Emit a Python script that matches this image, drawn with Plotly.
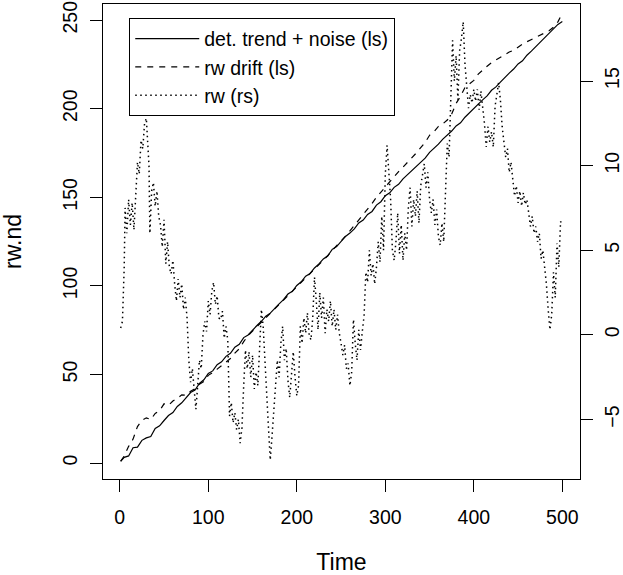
import plotly.graph_objects as go

# det. trend + noise (left scale)
trend_time = [1, 5, 10, 15, 20, 25, 30, 35, 40, 45, 50, 55, 60, 65, 70, 75, 80, 85, 90, 95,
              100, 105, 110, 115, 120, 125, 130, 135, 140, 145, 150, 155, 160, 165, 170, 175, 180, 185, 190, 195,
              200, 205, 210, 215, 220, 225, 230, 235, 240, 245, 250, 255, 260, 265, 270, 275, 280, 285, 290, 295,
              300, 305, 310, 315, 320, 325, 330, 335, 340, 345, 350, 355, 360, 365, 370, 375, 380, 385, 390, 395,
              400, 405, 410, 415, 420, 425, 430, 435, 440, 445, 450, 455, 460, 465, 470, 475, 480, 485, 490, 495, 500]
trend_value = [1.0, 3.2, 4.0, 8.6, 9.0, 12.8, 14.2, 15.0, 19.5, 21.0, 24.0, 26.8, 28.5, 31.9, 34.0, 36.6, 39.8, 41.2, 44.9, 47.0,
               50.6, 52.0, 55.5, 57.1, 60.2, 61.9, 65.4, 67.0, 70.8, 72.3, 75.1, 77.6, 80.0, 82.9, 84.6, 87.5, 89.8, 92.2, 95.4, 96.9,
               100.2, 102.3, 105.5, 107.0, 110.1, 112.4, 115.2, 117.0, 120.6, 122.2, 125.0, 127.9, 129.8, 132.2, 135.5, 137.1, 140.3, 142.0, 145.6, 147.5,
               150.9, 152.5, 155.6, 157.3, 160.4, 162.8, 165.0, 167.6, 170.2, 172.1, 175.4, 177.6, 180.0, 182.8, 185.1, 187.4, 190.3, 192.0, 195.2, 197.5,
               200.1, 202.6, 205.0, 207.2, 210.4, 212.3, 215.0, 217.7, 220.1, 222.4, 225.3, 227.0, 230.2, 232.5, 235.0, 237.3, 240.1, 242.8, 245.0, 247.6, 249.2]

# rw drift (left scale)
drift_time = trend_time
drift_value = [1.0, 4.0, 9.4, 13.5, 20.6, 24.0, 25.5, 24.5, 28.0, 29.5, 33.4, 32.5, 35.0, 36.5, 38.5, 38.2, 40.5, 42.0, 44.5, 46.0,
               49.5, 51.0, 53.0, 55.0, 57.5, 59.0, 62.0, 64.5, 68.5, 72.0, 74.5, 77.0, 79.5, 82.0, 84.0, 86.5, 89.0, 91.5, 94.5, 96.5,
               99.5, 101.5, 104.5, 106.5, 109.5, 111.5, 114.5, 117.0, 120.0, 122.5, 125.5, 128.0, 131.0, 134.0, 137.5, 140.0, 143.5, 146.5, 150.0, 153.0,
               156.0, 159.0, 162.0, 164.5, 167.0, 169.5, 172.0, 175.0, 178.0, 181.0, 185.0, 187.0, 190.0, 191.5, 193.6, 197.0, 203.0, 207.0, 212.0, 214.0,
               216.0, 219.5, 222.0, 224.0, 226.0, 227.5, 229.0, 230.5, 232.0, 233.0, 235.0, 236.5, 237.8, 239.0, 240.5, 241.5, 243.0, 244.0, 246.0, 249.0, 254.0]

# rw (right scale)
rw_time = [1, 3, 5, 6, 8, 10, 12, 14, 16, 18, 20, 22, 24, 26, 28, 30, 31, 33, 34, 36, 38, 40, 42, 44, 46, 48, 50,
           52, 54, 56, 58, 60, 62, 64, 66, 68, 70, 72, 74, 76, 78, 80, 82, 84, 86, 88, 90, 92, 94, 96, 98, 100,
           102, 104, 106, 108, 110, 112, 114, 116, 118, 120, 122, 124, 126, 128, 130, 132, 134, 136, 138, 140,
           142, 144, 146, 148, 150, 152, 154, 156, 158, 160, 162, 164, 166, 168, 170, 172, 174, 176, 178, 180,
           182, 184, 186, 188, 190, 192, 194, 196, 198, 200, 202, 204, 206, 208, 210, 212, 214, 216, 218, 220,
           222, 224, 226, 228, 230, 232, 234, 236, 238, 240, 242, 244, 246, 248, 250, 252, 254, 256, 258, 260,
           262, 264, 266, 268, 270, 272, 274, 276, 278, 280, 282, 284, 286, 288, 290, 292, 294, 296, 298, 300,
           302, 304, 306, 308, 310, 312, 314, 316, 318, 320, 322, 324, 326, 328, 330, 332, 334, 336, 338, 340,
           342, 344, 346, 348, 350, 352, 354, 356, 358, 360, 362, 364, 366, 368, 370, 372, 374, 376, 378, 380,
           382, 384, 386, 388, 390, 392, 394, 396, 398, 400, 402, 404, 406, 408, 410, 412, 414, 416, 418, 420,
           422, 424, 426, 428, 430, 432, 434, 436, 438, 440, 442, 444, 446, 448, 450, 452, 454, 456, 458, 460,
           462, 464, 466, 468, 470, 472, 474, 476, 478, 480, 482, 484, 486, 488, 490, 492, 494, 496, 498, 500]
rw_value = [0.4, 0.8, 4.0, 7.5, 6.0, 8.0, 6.5, 7.8, 6.2, 8.5, 10.2, 9.5, 11.5, 11.0, 12.5, 12.8, 11.8, 10.0, 6.0, 8.5, 9.0, 7.6, 8.5, 7.0, 6.5, 5.2, 6.8,
            4.2, 5.5, 4.0, 3.6, 4.4, 3.0, 2.0, 3.3, 2.2, 3.0, 1.5, 2.2, 1.0, -1.5, -2.8, -2.0, -3.5, -4.4, -3.0, -1.5, -2.0, 0.0, 0.8, 0.2, 2.0,
            1.2, 2.6, 3.1, 1.8, 2.3, 1.0, 0.9, 1.4, -0.2, 0.5, -0.3, -4.8, -4.0, -5.2, -4.6, -5.6, -5.0, -6.4, -5.5, -3.0,
            -0.9, -2.0, -1.0, -2.5, -1.2, -3.2, -2.2, -3.0, -1.0, 1.5, 0.5, -2.0, -3.5, -5.5, -7.4, -6.0, -4.5, -3.2, -1.5, -2.5,
            -0.5, 0.5, -1.5, -0.8, -2.7, -3.7, -2.0, -1.0, -2.5, -3.6, -3.0, 0.5, -0.5, 1.0, 0.1, 1.3, 0.0, -0.3, 1.0, 3.4,
            2.0, 0.3, 2.5, 1.0, 2.2, 0.1, 1.5, 0.8, 2.0, 0.5, 1.5, 0.3, 1.2, 0.1, -0.5, -1.2, -0.6, -2.0, -1.7, -3.0,
            -2.2, 0.9, -0.5, -1.5, 0.3, -0.9, 0.2, 1.1, 3.7, 3.1, 5.0, 3.5, 4.2, 3.0, 4.0, 5.5, 4.3, 7.0, 5.0, 9.5,
            11.2, 9.8, 8.0, 5.0, 4.4, 5.5, 7.2, 4.8, 6.5, 4.4, 6.0, 5.0, 7.5, 8.7, 6.4, 8.0, 7.0, 8.5, 6.6, 8.8,
            9.5, 10.1, 8.7, 9.6, 8.0, 7.2, 8.0, 6.5, 7.4, 5.8, 5.3, 6.6, 5.5, 8.0, 11.3, 10.5, 14.0, 17.4, 15.0, 16.5,
            13.9, 16.8, 17.5, 18.5, 16.0, 14.9, 13.4, 14.2, 13.7, 14.5, 13.8, 14.5, 13.3, 14.4, 13.6, 12.5, 11.1, 12.3, 11.4, 12.0,
            11.1, 13.5, 14.2, 14.9, 13.9, 12.3, 11.4, 10.5, 11.0, 9.6, 10.2, 9.1, 8.2, 8.8, 7.8, 8.5, 7.6, 8.4, 7.7, 8.0,
            7.2, 6.4, 7.0, 6.0, 6.4, 5.5, 6.0, 4.5, 5.0, 4.0, 3.0, 1.5, 0.3, 1.2, 3.7, 2.2, 5.4, 4.0, 6.7, 6.5]

x_ticks = [0, 100, 200, 300, 400, 500]
left_ticks = [0, 50, 100, 150, 200, 250]
right_ticks = [-5, 0, 5, 10, 15]

FONT = "Liberation Sans, Arial, Helvetica, sans-serif"

fig = go.Figure()
fig.add_trace(go.Scatter(x=trend_time, y=trend_value, mode="lines", name="det. trend + noise (ls)",
                         line=dict(color="black", width=1.2)))
fig.add_trace(go.Scatter(x=drift_time, y=drift_value, mode="lines", name="rw drift (ls)",
                         line=dict(color="black", width=1.2, dash="6px,6px")))
fig.add_trace(go.Scatter(x=rw_time, y=rw_value, mode="lines", name="rw (rs)", yaxis="y2",
                         line=dict(color="black", width=1.5, dash="1.5px,3.5px")))

axis_common = dict(showgrid=False, zeroline=False, showline=True, linecolor="black", linewidth=1.2,
                   ticks="outside", ticklen=12, tickwidth=1.2, tickcolor="black", automargin=False,
                   tickfont=dict(size=19.5, color="black", family=FONT))

fig.update_layout(
    width=623, height=575,
    margin=dict(l=103, r=43, t=4, b=96, autoexpand=False),
    paper_bgcolor="white", plot_bgcolor="white",
    font=dict(family=FONT, size=19.5, color="black"),
    xaxis=dict(range=[-18.96, 519.96], tickvals=x_ticks, mirror=True,
               title=dict(text="Time", standoff=29), ticklabelstandoff=8, **axis_common),
    yaxis=dict(range=[-9.02, 259.1], tickvals=left_ticks, tickangle=-90,
               title=dict(text="rw.nd", standoff=37), ticklabelstandoff=5, **axis_common),
    yaxis2=dict(range=[-8.52, 19.55], tickvals=right_ticks, tickangle=-90, overlaying="y", side="right",
                ticklabelstandoff=2, **axis_common),
    legend=dict(x=0.0546, y=0.9701, xanchor="left", yanchor="top", bordercolor="black", borderwidth=1.2,
                bgcolor="white", itemwidth=64, font=dict(size=19.5, family=FONT, color="black")),
    showlegend=True,
)

fig.write_html("out.html", config={"displayModeBar": False},
               post_script="document.body.style.margin='0';document.body.style.padding='0';")
